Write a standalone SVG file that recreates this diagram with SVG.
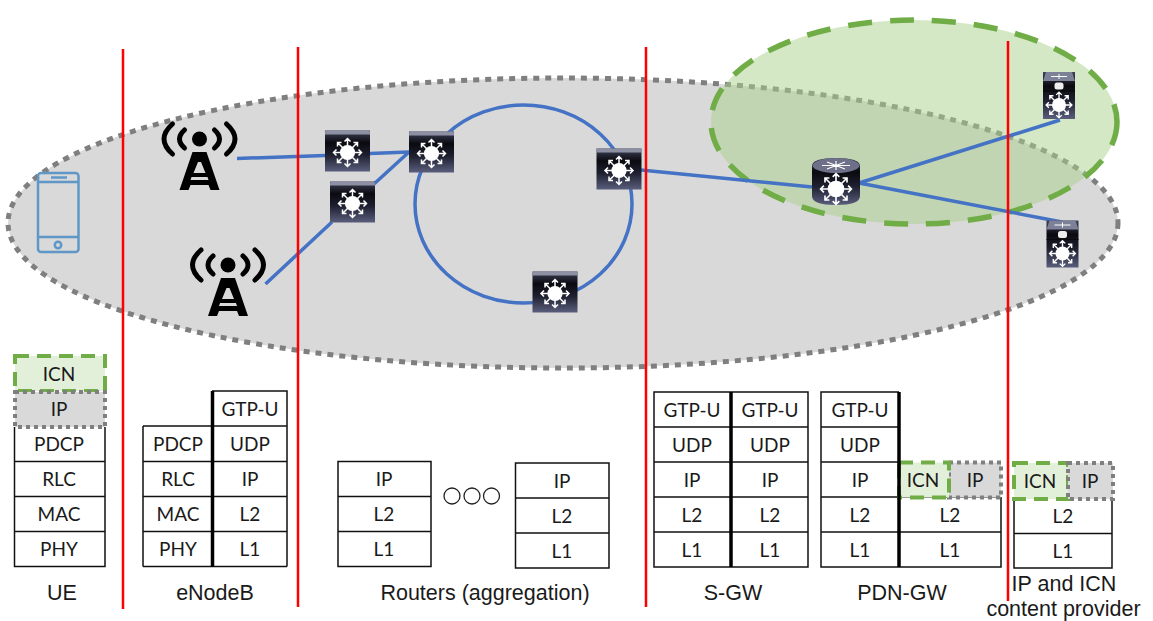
<svg xmlns="http://www.w3.org/2000/svg" width="1153" height="621" viewBox="0 0 1153 621">
<style>
.c{font:19px Lato,"Liberation Sans",sans-serif;fill:#1a1a1a;text-anchor:middle}
.l{font:21.500px "Liberation Sans",Arial,sans-serif;fill:#1a1a1a;text-anchor:middle}
.g{stroke:#111;stroke-width:1.500;fill:none}
.th{stroke:#000;stroke-width:3.500;fill:none}
.red{stroke:#f00;stroke-width:2.500}
.lnk{stroke:#4472c4;stroke-width:3.500;fill:none}
.icn{fill:#e2efd9;stroke:#70ad47;stroke-width:4;stroke-dasharray:14 8}
.ip{fill:#d9d9d9;stroke:#7f7f7f;stroke-width:4;stroke-dasharray:4 4}
.arr{stroke:#fff;stroke-width:1.500;fill:none}
.tw{fill:none;stroke:#000;stroke-width:5;stroke-linecap:round}
</style>
<defs>
<linearGradient id="bd" x1="0" y1="0" x2="0" y2="1"><stop offset="0" stop-color="#3f4359"/><stop offset=".3" stop-color="#0a0a10"/><stop offset=".6" stop-color="#1e2030"/><stop offset="1" stop-color="#5a5e7c"/></linearGradient>
<g id="star"><circle r="7.600" fill="#fff"/><path class="arr" d="M0-14V14M-14 0H14M-10-10L10 10M-10 10L10-10M-3-11L0-14 3-11M-3 11L0 14 3 11M-11-3L-14 0-11 3M11-3L14 0 11 3M-10-6V-10H-6M10-6V-10H6M-10 6V10H-6M10 6V10H6"/></g>
<g id="sw"><rect x="-22.500" y="-20.500" width="45" height="41" fill="url(#bd)"/><path d="M-22.500-16.500V-18.500Q-22.500-20.500-20.500-20.500H20.500Q22.500-20.500 22.500-18.500V-16.500Z" fill="#8d90a3"/><use href="#star" y="1.500"/></g>
<g id="srv"><rect x="-16" y="-23" width="32" height="47" fill="url(#bd)"/><path d="M-16-14L-13-23H13L16-14Z" fill="#7d8198"/><path d="M-8-18.500H8M0-21V-16" stroke="#fff" stroke-width="1"/><path d="M-16-4H16" stroke="#0a0a0a" stroke-width="1.200"/><rect x="-4.500" y="-12.500" width="9" height="7" rx="2.500" fill="#eee"/><g transform="translate(0 10) scale(.92)"><use href="#star"/></g></g>
<g id="twr"><circle r="7.500" fill="#000"/><path class="tw" d="M-15-9Q-25 0-15 9M15-9Q25 0 15 9M-27-15Q-44 0-27 15M27-15Q44 0 27 15"/><path d="M-7 13H7L20 51H11L9 46H-9L-11 51H-20ZM-1.500 23H1.500L6 34H-6ZM-8 38H8L9 41H-9Z" fill="#000" fill-rule="evenodd"/></g>
</defs>
<g id="regions">
<ellipse cx="563" cy="223" rx="555" ry="145" fill="#d9d9d9" stroke="#7f7f7f" stroke-width="5" stroke-dasharray="6 6"/>
<ellipse cx="914" cy="122" rx="203" ry="102" fill="#a9d18e" fill-opacity=".5" stroke="#70ad47" stroke-width="5.500" stroke-dasharray="24 18"/>
</g>
<g id="connectors">
<path class="lnk" d="M237 158.500L325 155.500M370 153.500L409 152M265.500 284L332 222M374 184L409 152M641 170L812 187M859 183L1060 120M859 183L1062 222"/>
<ellipse class="lnk" cx="523.500" cy="204" rx="108.500" ry="99"/>
</g>
<g id="ue-icon" fill="none" stroke="#5f97c8" stroke-width="2.500"><rect x="38" y="173" width="40.500" height="79" rx="3"/><path d="M38 182H78M38 237H78M51 177.500H67"/><circle cx="58" cy="245" r="3.200"/></g>
<g id="enb1"><use href="#twr" x="199.500" y="139"/></g>
<g id="enb2"><use href="#twr" x="228" y="265"/></g>
<g id="r1"><use href="#sw" x="347.500" y="151"/></g>
<g id="r2"><use href="#sw" x="352.500" y="202"/></g>
<g id="r3"><use href="#sw" x="431.500" y="152"/></g>
<g id="r4"><use href="#sw" x="619" y="169"/></g>
<g id="r5"><use href="#sw" x="555" y="292"/></g>
<g id="pgw">
<path d="M812 166V196Q812 205 836 205T860 196V166Q860 158 836 158T812 166Z" fill="url(#bd)"/>
<ellipse cx="836" cy="165.500" rx="23.500" ry="7.500" fill="#6d7088"/>
<path d="M822 165.500H850M836 161V170M827 162L845 169M827 169L845 162" stroke="#fff" stroke-width="1.200"/>
<g transform="translate(836 189) scale(1.100)"><use href="#star"/></g></g>
<g id="cs1"><use href="#srv" x="1059" y="95"/></g>
<g id="cs2"><use href="#srv" x="1062.500" y="243.500"/></g>
<g id="lines">
<path class="red" d="M123 49V609M298 47V607M646 47V607M1008 41V601"/>
</g>
<g id="ue">
<rect class="icn" x="15" y="356" width="90" height="35"/>
<rect class="ip" x="15" y="392" width="90" height="35"/>
<path class="g" d="M14.500 427V566.500H105V427M14.500 461.500H105M14.500 496.500H105M14.500 531.500H105"/>
<text class="c" x="59" y="381">ICN</text><text class="c" x="59" y="416">IP</text><text class="c" x="59" y="451">PDCP</text><text class="c" x="59" y="486">RLC</text><text class="c" x="59" y="521">MAC</text><text class="c" x="59" y="556">PHY</text>
<text class="l" x="62" y="600">UE</text>
</g>
<g id="enodeb">
<path class="g" d="M143 426H212M143 461.500H287M143 496.500H287M143 531.500H287M143 566.500H287M143 426V566.500M212 391H287V566.500M212 426H287"/>
<path class="th" d="M212.500 391V566.500"/>
<text class="c" x="178" y="451">PDCP</text><text class="c" x="178" y="486">RLC</text><text class="c" x="178" y="521">MAC</text><text class="c" x="178" y="556">PHY</text>
<text class="c" x="250" y="416">GTP-U</text><text class="c" x="250" y="451">UDP</text><text class="c" x="250" y="486">IP</text><text class="c" x="250" y="521">L2</text><text class="c" x="250" y="556">L1</text>
<text class="l" x="215" y="600">eNodeB</text>
</g>
<g id="routers">
<path class="g" d="M338 461.500H431V566.500H338ZM338 496.500H431M338 531.500H431M515.500 463H609V568H515.500ZM515.500 498H609M515.500 533H609"/>
<text class="c" x="384" y="486">IP</text><text class="c" x="384" y="521">L2</text><text class="c" x="384" y="556">L1</text>
<text class="c" x="562" y="488">IP</text><text class="c" x="562" y="523">L2</text><text class="c" x="562" y="558">L1</text>
<g fill="none" stroke="#222" stroke-width="1.300"><circle cx="452" cy="496" r="8"/><circle cx="472" cy="496" r="8"/><circle cx="491.500" cy="496" r="8"/></g>
<text class="l" x="485" y="600">Routers (aggregation)</text>
</g>
<g id="sgw">
<path class="g" d="M654 392H808V567H654ZM654 427H808M654 462H808M654 497H808M654 532H808"/>
<path class="th" d="M731 392V567"/>
<text class="c" x="692" y="417">GTP-U</text><text class="c" x="692" y="452">UDP</text><text class="c" x="692" y="487">IP</text><text class="c" x="692" y="522">L2</text><text class="c" x="692" y="557">L1</text>
<text class="c" x="770" y="417">GTP-U</text><text class="c" x="770" y="452">UDP</text><text class="c" x="770" y="487">IP</text><text class="c" x="770" y="522">L2</text><text class="c" x="770" y="557">L1</text>
<text class="l" x="733" y="600">S-GW</text>
</g>
<g id="pdngw">
<path class="g" d="M899 392H821V567H1001V497M821 427H899M821 462H899M821 497H1001M821 532H1001"/>
<rect class="ip" x="949" y="462.500" width="52" height="35"/>
<rect class="icn" x="899" y="462.500" width="50" height="35"/>
<path class="th" d="M899 392V567"/>
<text class="c" x="923" y="487">ICN</text><text class="c" x="975" y="487">IP</text>
<text class="c" x="860" y="417">GTP-U</text><text class="c" x="860" y="452">UDP</text><text class="c" x="860" y="487">IP</text><text class="c" x="860" y="522">L2</text><text class="c" x="860" y="557">L1</text>
<text class="c" x="950" y="522">L2</text><text class="c" x="950" y="557">L1</text>
<text class="l" x="902" y="600">PDN-GW</text>
</g>
<g id="provider">
<path class="g" d="M1014 499V568H1112V499M1014 533.500H1112"/>
<rect class="icn" x="1014" y="463" width="54" height="36"/>
<rect class="ip" x="1068" y="463" width="45" height="36"/>
<text class="c" x="1040" y="488">ICN</text><text class="c" x="1090" y="488">IP</text><text class="c" x="1063" y="523">L2</text><text class="c" x="1063" y="558">L1</text>
<text class="l" x="1064" y="591">IP and ICN</text><text class="l" x="1063.500" y="616">content provider</text>
</g>
</svg>
